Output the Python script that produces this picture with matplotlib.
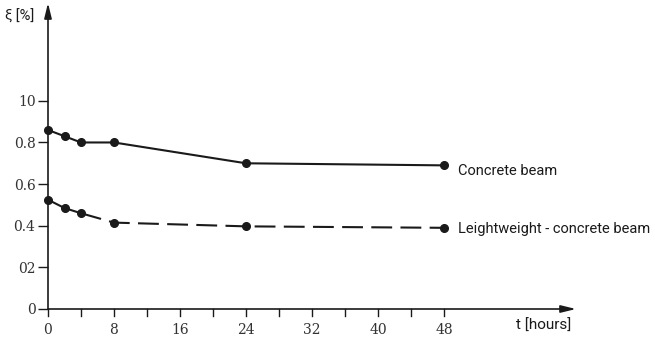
import matplotlib
matplotlib.use("Agg")
import matplotlib.pyplot as plt

# Strain over time for two beam types
hours = [0, 2, 4, 8, 24, 48]
concrete = [0.86, 0.83, 0.80, 0.80, 0.70, 0.69]
lightweight = [0.525, 0.485, 0.46, 0.415, 0.397, 0.39]

y_ticks = [0, 0.2, 0.4, 0.6, 0.8, 1.0]
y_labels = ["0", "02", "0.4", "0.6", "0.8", "10"]
x_major = [0, 8, 16, 24, 32, 40, 48]
x_minor = [4, 12, 20, 28, 36, 44]

INK = "#1a1a1a"
LABEL_FONT = ["Roboto", "DejaVu Sans"]

fig = plt.figure(figsize=(6.55, 3.40), dpi=100)
ax = fig.add_axes([48 / 655, 31 / 340, 528 / 655, 306 / 340])
ax.set_xlim(0, 64)
ax.set_ylim(0, 1.47)
for s in ax.spines.values():
    s.set_visible(False)

# Axes with arrowheads
ax.annotate("", xy=(64, 0), xytext=(0, 0),
            arrowprops=dict(arrowstyle="-|>,head_length=0.9,head_width=0.22",
                            color=INK, lw=1.2, shrinkA=0, shrinkB=0),
            annotation_clip=False)
ax.annotate("", xy=(0, 1.47), xytext=(0, 0),
            arrowprops=dict(arrowstyle="-|>,head_length=0.9,head_width=0.22",
                            color=INK, lw=1.2, shrinkA=0, shrinkB=0),
            annotation_clip=False)

ax.set_xticks(x_major)
ax.set_xticks(x_minor, minor=True)
ax.set_yticks(y_ticks)
ax.set_yticklabels(y_labels)
ax.tick_params(axis="x", which="both", direction="out", length=0, pad=10,
               labelsize=10)
ax.tick_params(axis="y", direction="out", length=7, width=1.0, color=INK,
               labelsize=10, pad=2)
for lbl in ax.get_xticklabels() + ax.get_yticklabels():
    lbl.set_family("DejaVu Serif")
    lbl.set_color("#333333")

# x ticks drawn below the axis line
for xt in x_major + x_minor:
    ax.plot([xt, xt], [0, -0.035], color=INK, lw=1.0, clip_on=False)

# Concrete beam
ax.plot(hours, concrete, color=INK, lw=1.5, marker="o", ms=5.5, clip_on=False)
ax.annotate("Concrete beam", xy=(hours[-1], concrete[-1]), xytext=(10, -4),
            textcoords="offset points", fontsize=10.5, color=INK,
            va="center", family=LABEL_FONT)

# Lightweight-concrete beam: solid start, dashed afterwards
ax.plot(hours[:3], lightweight[:3], color=INK, lw=1.5, clip_on=False)
ax.plot(hours[2:], lightweight[2:], color=INK, lw=1.5, ls=(0, (10, 4)),
        clip_on=False)
ax.plot(hours, lightweight, ls="none", color=INK, marker="o", ms=5.5,
        clip_on=False)
ax.annotate("Leightweight - concrete beam", xy=(hours[-1], lightweight[-1]),
            xytext=(10, -1), textcoords="offset points", fontsize=10.5,
            color=INK, va="center", family=LABEL_FONT)

# Axis titles
fig.text(5 / 655, 1 - 17 / 340, "ξ [%]", fontsize=10.5, color=INK,
         va="center", family=LABEL_FONT)
fig.text(516 / 655, 1 - 326 / 340, "t [hours]", fontsize=11, color=INK,
         va="center", family=LABEL_FONT)

fig.savefig("out.png", dpi=100, facecolor="white")
